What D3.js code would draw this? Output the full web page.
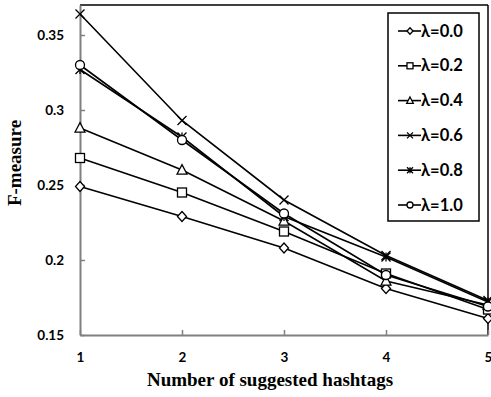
<!DOCTYPE html>
<html><head><meta charset="utf-8">
<script src="https://cdn.jsdelivr.net/npm/d3@7"></script>
<style>body{margin:0;background:#fff}</style>
</head><body>
<svg id="c" width="491" height="397"></svg>
<script>
const xValues = [1, 2, 3, 4, 5];
const seriesNames = ["λ=0.0", "λ=0.2", "λ=0.4", "λ=0.6", "λ=0.8", "λ=1.0"];
const lambda00 = [0.249, 0.229, 0.208, 0.181, 0.161];
const lambda02 = [0.268, 0.245, 0.219, 0.191, 0.167];
const lambda04 = [0.288, 0.260, 0.226, 0.186, 0.170];
const lambda06 = [0.364, 0.293, 0.240, 0.203, 0.173];
const lambda08 = [0.327, 0.282, 0.229, 0.202, 0.172];
const lambda10 = [0.330, 0.280, 0.231, 0.190, 0.169];
const markers = ["diamond", "square", "triangle", "x", "star", "circle"];
const yTicks = [0.15, 0.2, 0.25, 0.3, 0.35];
const yTickLabels = ["0.15", "0.2", "0.25", "0.3", "0.35"];

const allSeries = [lambda00, lambda02, lambda04, lambda06, lambda08, lambda10];
const svg = d3.select("#c");
const L = 80, R = 488, T = 5, B = 335;
const x = d3.scaleLinear().domain([1, 5]).range([L, R]);
const y = d3.scaleLinear().domain([0.15, 0.37]).range([B, T]);

// frame
svg.append("line").attr("x1", L).attr("x2", R).attr("y1", T).attr("y2", T).attr("stroke", "#000").attr("stroke-width", 1.5);
svg.append("line").attr("x1", R).attr("x2", R).attr("y1", T).attr("y2", B).attr("stroke", "#000").attr("stroke-width", 1.5);

// axes
const gy = svg.append("g").attr("transform", `translate(${L},0)`)
  .call(d3.axisLeft(y).tickValues(yTicks).tickFormat((d, i) => yTickLabels[i]).tickSizeInner(-5).tickSizeOuter(0).tickPadding(16));
const gx = svg.append("g").attr("transform", `translate(0,${B})`)
  .call(d3.axisBottom(x).tickValues(xValues).tickFormat(d3.format("d")).tickSizeInner(-5).tickSizeOuter(0).tickPadding(17));
[gx, gy].forEach(g => {
  g.select(".domain").attr("stroke", "#808080").attr("stroke-width", 2);
  g.selectAll(".tick line").attr("stroke", "#808080").attr("stroke-width", 1.5);
  g.selectAll("text").attr("font-family", "Lato, 'Open Sans', sans-serif").attr("font-weight", "bold").attr("font-size", 13.5).attr("fill", "#000");
});

function drawMarker(g, type, cx, cy, s) {
  const st = {fill: "#fff", stroke: "#000", "stroke-width": 1.3};
  let el;
  if (type === "diamond") el = g.append("path").attr("d", `M${cx},${cy-s*0.55}L${cx+s*0.5},${cy}L${cx},${cy+s*0.55}L${cx-s*0.5},${cy}Z`);
  else if (type === "square") el = g.append("rect").attr("x", cx - s/2).attr("y", cy - s/2).attr("width", s).attr("height", s);
  else if (type === "triangle") el = g.append("path").attr("d", `M${cx},${cy-s*0.6}L${cx+s*0.55},${cy+s*0.45}L${cx-s*0.55},${cy+s*0.45}Z`);
  else if (type === "circle") el = g.append("circle").attr("cx", cx).attr("cy", cy).attr("r", s/2);
  else if (type === "x") el = g.append("path").attr("d", `M${cx-s/2},${cy-s/2}L${cx+s/2},${cy+s/2}M${cx-s/2},${cy+s/2}L${cx+s/2},${cy-s/2}`);
  else if (type === "star") el = g.append("path").attr("d", `M${cx-s/2},${cy-s/2}L${cx+s/2},${cy+s/2}M${cx-s/2},${cy+s/2}L${cx+s/2},${cy-s/2}M${cx},${cy-s/2}L${cx},${cy+s/2}`);
  Object.entries(st).forEach(([k, v]) => el.attr(k, v));
  if (type === "x" || type === "star") el.attr("fill", "none");
}

const line = d3.line().x((d, i) => x(xValues[i])).y(d => y(d));
allSeries.forEach((vals, si) => {
  const g = svg.append("g");
  g.append("path").datum(vals).attr("d", line).attr("fill", "none").attr("stroke", "#000").attr("stroke-width", 1.6);
  vals.forEach((v, i) => drawMarker(g, markers[si], x(xValues[i]), y(v), 9));
});

// legend
const lg = svg.append("g");
lg.append("rect").attr("x", 388).attr("y", 13).attr("width", 91).attr("height", 208).attr("fill", "#fff").attr("stroke", "#000").attr("stroke-width", 1.5);
seriesNames.forEach((name, i) => {
  const cy = 31 + i * 34.8;
  lg.append("line").attr("x1", 398).attr("x2", 421).attr("y1", cy).attr("y2", cy).attr("stroke", "#000").attr("stroke-width", 1.6);
  drawMarker(lg, markers[i], 410, cy, 6);
  lg.append("text").attr("x", 421).attr("y", cy + 5.5).text(name)
    .attr("font-family", "Lato, 'Open Sans', sans-serif").attr("font-weight", "bold").attr("font-size", 16.5);
});

// titles
svg.append("text").attr("x", 270).attr("y", 386).attr("text-anchor", "middle").text("Number of suggested hashtags")
  .attr("font-family", "'Liberation Serif', 'Times New Roman', serif").attr("font-weight", "bold").attr("font-size", 19);
svg.append("text").attr("transform", "translate(21,163) rotate(-90)").attr("text-anchor", "middle").text("F-measure")
  .attr("font-family", "'Liberation Serif', 'Times New Roman', serif").attr("font-weight", "bold").attr("font-size", 19);
</script>
</body></html>
